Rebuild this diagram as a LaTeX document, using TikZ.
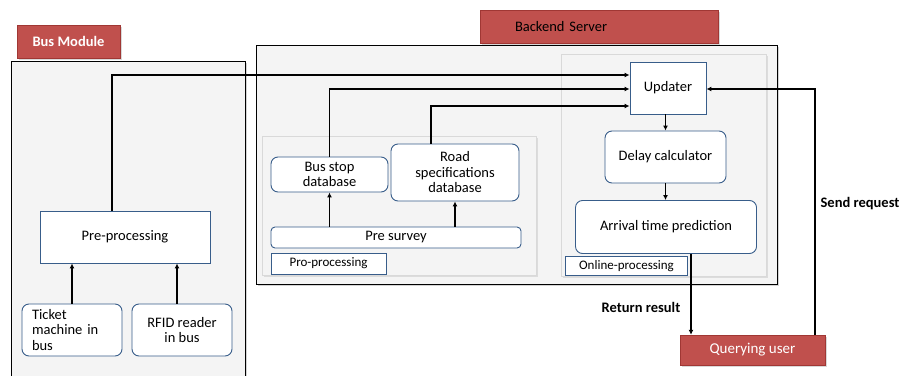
\documentclass[tikz,border=0pt]{standalone}
\usepackage{fontspec}
\setmainfont{Carlito}
\usetikzlibrary{arrows.meta,shadows}

\definecolor{lblred}{RGB}{192,80,77}
\definecolor{lbledge}{RGB}{160,55,52}
\definecolor{boxblue}{RGB}{56,93,138}
\definecolor{panelgray}{RGB}{244,244,244}

\tikzset{
  panel/.style={draw=black, fill=panelgray, inner sep=0pt,
    drop shadow={shadow xshift=2pt, shadow yshift=-2pt, opacity=0.35}},
  subpanel/.style={draw=white!85!black, fill=panelgray, inner sep=0pt,
    drop shadow={shadow xshift=1.5pt, shadow yshift=-1.5pt, opacity=0.2}},
  redlbl/.style={draw=lbledge, fill=lblred, inner sep=0pt,
    drop shadow={shadow xshift=1.5pt, shadow yshift=-1.5pt, opacity=0.3}},
  sqbox/.style={draw=boxblue, line width=0.9pt, fill=white, inner sep=0pt,
    font=\fontsize{14.5}{15.5}\selectfont},
  rbox/.style={sqbox, rounded corners=7pt, align=center},
  tagbox/.style={draw=boxblue, line width=0.9pt, fill=white, inner sep=0pt,
    font=\fontsize{13}{15}\selectfont},
  arr/.style={line width=1.7pt, -{Latex[length=5pt,width=5pt]}},
  flowlbl/.style={font=\fontsize{14.5}{16}\selectfont\bfseries}
}

\begin{document}
\begin{tikzpicture}[x=1pt,y=-1pt]
\useasboundingbox (0,0) rectangle (901,375);

% panels
\node[panel, minimum width=234pt, minimum height=322pt] (buspanel) at (128,222) {};
\node[panel, minimum width=521pt, minimum height=239pt] (backpanel) at (516.5,164.5) {};
\node[subpanel, minimum width=274pt, minimum height=139pt] (prepanel) at (399,205.5) {};
\node[subpanel, minimum width=205pt, minimum height=222pt] (onpanel) at (663.5,165) {};

% title tags
\node[redlbl, minimum width=103pt, minimum height=33pt, text=white,
  font=\fontsize{14.5}{16}\selectfont\bfseries] (buslbl) at (68.5,41.5) {Bus Module};
\node[redlbl, minimum height=33pt, text width=168pt, inner xsep=35pt, align=left,
  font=\fontsize{14.5}{16}\selectfont] (backlbl) at (599,26.5) {Backend Server};

% bus module
\node[sqbox, minimum width=170pt, minimum height=52pt] (busproc) at (125,237) {Pre-processing};
\node[rbox, minimum width=100pt, minimum height=52pt, text width=80pt, align=left] (ticket) at (72,330) {Ticket\\machine in\\bus};
\node[rbox, minimum width=100pt, minimum height=52pt] (rfid) at (182,330) {RFID reader\\in bus};

% pre-processing
\node[rbox, minimum width=117pt, minimum height=35pt] (busstop) at (329.5,174.5) {Bus stop\\database};
\node[rbox, minimum width=128pt, minimum height=57pt] (road) at (455,172.5) {Road\\specifications\\database};
\node[rbox, rounded corners=4pt, minimum width=250pt, minimum height=21pt] (presurvey) at (396,237.5) {Pre survey};
\node[tagbox, minimum width=115pt, minimum height=21pt] (prolbl) at (328.5,263.5) {Pro-processing};

% online-processing
\node[sqbox, minimum width=76pt, minimum height=52pt] (updater) at (668,88) {Updater};
\node[rbox, minimum width=121pt, minimum height=52pt] (delay) at (665.5,157) {Delay calculator};
\node[rbox, minimum width=181pt, minimum height=53pt] (arrival) at (666,227) {Arrival time prediction};
\node[tagbox, minimum width=122pt, minimum height=19pt] (onlbl) at (626.5,266) {Online-processing};

% user
\node[redlbl, minimum width=145pt, minimum height=30pt, text=white,
  font=\fontsize{15}{17}\selectfont] (quser) at (752.5,350) {Querying user};

% flows
\draw[arr] (ticket.north) -- (ticket.north |- busproc.south);
\draw[arr] ([xshift=-5pt]rfid.north) -- ([xshift=-5pt]rfid.north |- busproc.south);
\draw[arr] ([xshift=-13pt]busproc.north) |- ([yshift=13pt]updater.west);
\draw[arr] (busstop.north) |- ([yshift=-1pt]updater.west);
\draw[arr] ([xshift=-24pt]road.north) |- ([yshift=-18pt]updater.west);
\draw[arr] (presurvey.north -| busstop.south) -- (busstop.south);
\draw[arr] (presurvey.north -| road.south) -- (road.south);
\draw[arr] (updater.south -| delay.north) -- (delay.north);
\draw[arr] (delay.south) -- (arrival.north -| delay.south);
\draw[arr] ([xshift=25pt]arrival.south) -- ([xshift=25pt]arrival.south |- quser.north);
\draw[arr] ([xshift=62.5pt]quser.north) |- ([yshift=-1pt]updater.east);

% flow labels
\node[flowlbl] (retres) at (641,307) {Return result};
\node[flowlbl] (sendreq) at (860,204) {Send request};
\end{tikzpicture}
\end{document}
